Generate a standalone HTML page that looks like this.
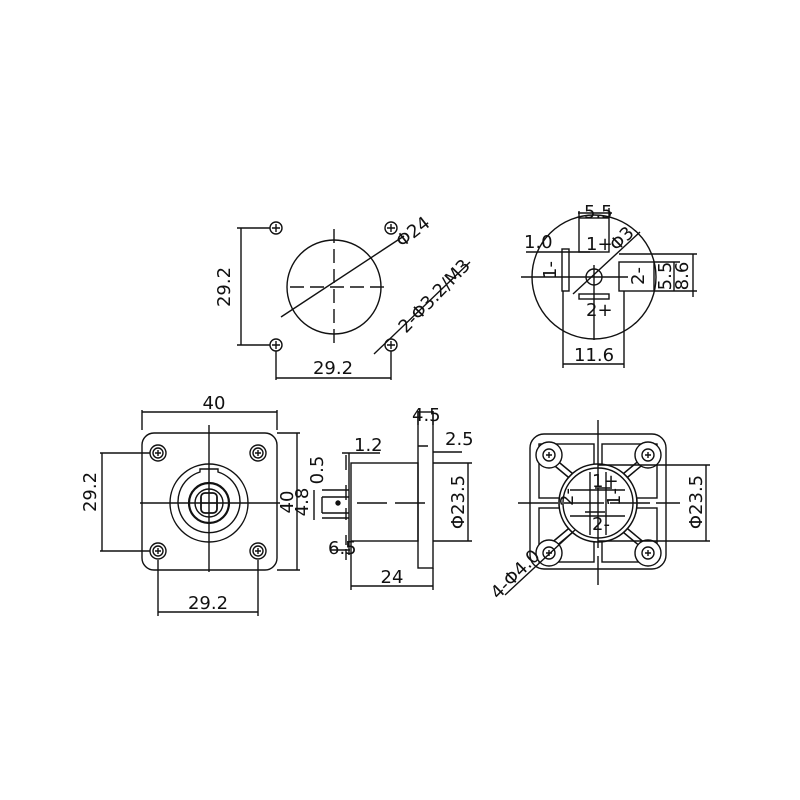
<!DOCTYPE html>
<html><head><meta charset="utf-8"><style>
html,body{margin:0;padding:0;background:#fff}
svg{display:block}
text{font-family:"DejaVu Sans","Liberation Sans",sans-serif;font-size:18px;fill:#111}
</style></head><body>
<svg width="800" height="800" viewBox="0 0 800 800" xmlns="http://www.w3.org/2000/svg">
<g stroke="#111" fill="none" stroke-width="1.4">
<!-- TOP LEFT -->
<circle cx="334" cy="287" r="47"/>
<line x1="290" y1="287" x2="390" y2="287" stroke-dasharray="14,6"/>
<line x1="334" y1="229" x2="334" y2="345" stroke-dasharray="14,6"/>
<line x1="281" y1="317" x2="404" y2="236"/>
<g>
<circle cx="276" cy="228" r="6"/><path d="M272 228h8M276 224v8"/>
<circle cx="391" cy="228" r="6"/><path d="M387 228h8M391 224v8"/>
<circle cx="276" cy="345" r="6"/><path d="M272 345h8M276 341v8"/>
<circle cx="391" cy="345" r="6"/><path d="M387 345h8M391 341v8"/>
</g>
<path d="M237 228H270M237 345H270M241 228V345"/>
<path d="M276 351V380M391 351V380M276 378H391"/>
<line x1="374" y1="354" x2="470" y2="262"/>
<!-- TOP RIGHT -->
<circle cx="594" cy="277" r="62"/>
<circle cx="594" cy="277" r="8"/>
<line x1="521" y1="277" x2="628" y2="277"/>
<line x1="594" y1="265" x2="594" y2="340"/>
<line x1="573" y1="294" x2="640" y2="232"/>
<rect x="579" y="218" width="30" height="34"/>
<rect x="562" y="249" width="7" height="42"/>
<rect x="619" y="262" width="35" height="29"/>
<rect x="579" y="294" width="30" height="5"/>
<path d="M526 252H590M555 252H560M563 291V368M624 291V368M563 364H624"/>
<path d="M579 218V211M609 218V208M578 213H612"/>
<path d="M619 254H697M654 262H680M654 291H697M674 262V291M693 254V297"/>
<!-- BOTTOM LEFT plate -->
<rect x="142" y="433" width="135" height="137" rx="12"/>
<circle cx="158" cy="453" r="8"/><circle cx="158" cy="453" r="5"/><path d="M155 453h6M158 450v6"/>
<circle cx="258" cy="453" r="8"/><circle cx="258" cy="453" r="5"/><path d="M255 453h6M258 450v6"/>
<circle cx="158" cy="551" r="8"/><circle cx="158" cy="551" r="5"/><path d="M155 551h6M158 548v6"/>
<circle cx="258" cy="551" r="8"/><circle cx="258" cy="551" r="5"/><path d="M255 551h6M258 548v6"/>
<circle cx="209" cy="503" r="39"/>
<path d="M200 472a31 31 0 1 0 18 0v-3h-18z"/>
<circle cx="209" cy="503" r="20" stroke-width="2.2"/>
<circle cx="209" cy="503" r="14"/>
<rect x="201" y="493" width="16" height="20" rx="4" stroke-width="1.8"/>
<path d="M201 503h16"/>
<line x1="140" y1="503" x2="280" y2="503"/>
<line x1="209" y1="425" x2="209" y2="572"/>
<path d="M142 410V430M277 410V430M142 412H277"/>
<path d="M100 453H150M100 551H150M102 453V551"/>
<path d="M158 560V616M258 560V616M158 612H258"/>
<path d="M277 433H300M277 570H300M297 433V570"/>
<!-- SIDE VIEW -->
<rect x="351" y="463" width="67" height="78"/>
<rect x="418" y="412" width="15" height="156"/>
<path d="M349 453V555M346 455V470M346 485V500M346 508V520M346 535V545"/>
<path d="M322 490H349M322 497H349M322 513H349M322 518H349M322 497V513"/>
<circle cx="338" cy="503" r="2" fill="#111"/>
<path d="M357 503H433" stroke-dasharray="30,8"/>
<path d="M351 541V590M433 568V590M351 586H433"/>
<path d="M433 463H472M433 541H472M468 463V541"/>
<path d="M418 411V425M433 411V425M433 452H462M418 446H428"/>
<path d="M342 453H380M346 549V560M331 550H350"/>
<path d="M314 490V520"/>
<!-- BOTTOM RIGHT -->
<rect x="530" y="434" width="136" height="135" rx="14"/>
<rect x="539" y="444" width="55" height="54"/>
<rect x="602" y="444" width="55" height="54"/>
<rect x="539" y="508" width="55" height="54"/>
<rect x="602" y="508" width="55" height="54"/>
<path d="M552 460l30 25M644 460l-30 25M552 546l30 -25M644 546l-30 -25" stroke-width="7"/>
<path d="M552 460l30 25M644 460l-30 25M552 546l30 -25M644 546l-30 -25" stroke="#fff" stroke-width="4"/>
<g fill="#fff">
<circle cx="549" cy="455" r="13"/><circle cx="648" cy="455" r="13"/>
<circle cx="549" cy="553" r="13"/><circle cx="648" cy="553" r="13"/>
<circle cx="598" cy="503" r="39" stroke-width="1.6"/>
</g>
<circle cx="598" cy="503" r="35"/>
<circle cx="549" cy="455" r="6"/><path d="M546 455h6M549 452v6"/>
<circle cx="648" cy="455" r="6"/><path d="M645 455h6M648 452v6"/>
<circle cx="549" cy="553" r="6"/><path d="M546 553h6M549 550v6"/>
<circle cx="648" cy="553" r="6"/><path d="M645 553h6M648 550v6"/>
<path d="M590 472V535M606 472V535M570 490H625M570 516H625M595 488H612M585 512H605"/>
<line x1="518" y1="503" x2="680" y2="503" stroke-dasharray="40,6"/>
<line x1="598" y1="420" x2="598" y2="585" stroke-dasharray="60,8"/>
<path d="M598 465H710M598 541H710M706 465V541"/>
<line x1="505" y1="595" x2="575" y2="530"/>
</g>
<g>
<text x="230" y="287" transform="rotate(-90 230 287)" text-anchor="middle">29.2</text>
<text x="333" y="374" text-anchor="middle">29.2</text>
<text x="402" y="248" transform="rotate(-38 402 248)">Φ24</text>
<text x="406" y="334" transform="rotate(-46 406 334)">2-Φ3.2/M3</text>
<text x="584" y="218">5.5</text>
<text x="524" y="248">1.0</text>
<text x="586" y="250">1+</text>
<text x="617" y="252" transform="rotate(-45 617 252)">Φ3</text>
<text x="556" y="270" transform="rotate(-90 556 270)" text-anchor="middle">1-</text>
<text x="644" y="276" transform="rotate(-90 644 276)" text-anchor="middle">2-</text>
<text x="671" y="276" transform="rotate(-90 671 276)" text-anchor="middle">5.5</text>
<text x="688" y="276" transform="rotate(-90 688 276)" text-anchor="middle">8.6</text>
<text x="586" y="316">2+</text>
<text x="594" y="361" text-anchor="middle">11.6</text>
<text x="214" y="409" text-anchor="middle">40</text>
<text x="96" y="492" transform="rotate(-90 96 492)" text-anchor="middle">29.2</text>
<text x="208" y="609" text-anchor="middle">29.2</text>
<text x="293" y="502" transform="rotate(-90 293 502)" text-anchor="middle">40</text>
<text x="308" y="502" transform="rotate(-90 308 502)" text-anchor="middle">4.8</text>
<text x="323" y="470" transform="rotate(-90 323 470)" text-anchor="middle">0.5</text>
<text x="354" y="451">1.2</text>
<text x="412" y="421">4.5</text>
<text x="445" y="445">2.5</text>
<text x="328" y="554">6.5</text>
<text x="392" y="583" text-anchor="middle">24</text>
<text x="464" y="502" transform="rotate(-90 464 502)" text-anchor="middle">Φ23.5</text>
<text x="702" y="502" transform="rotate(-90 702 502)" text-anchor="middle">Φ23.5</text>
<text x="498" y="600" transform="rotate(-45 498 600)">4-Φ4.0</text>
<text x="592" y="487" font-size="15">1+</text>
<text x="592" y="530" font-size="15">2-</text>
<text x="573" y="506" font-size="13" transform="rotate(-90 573 506)">2-</text>
<text x="620" y="506" font-size="13" transform="rotate(-90 620 506)">1-</text>
</g>
</svg>
</body></html>
